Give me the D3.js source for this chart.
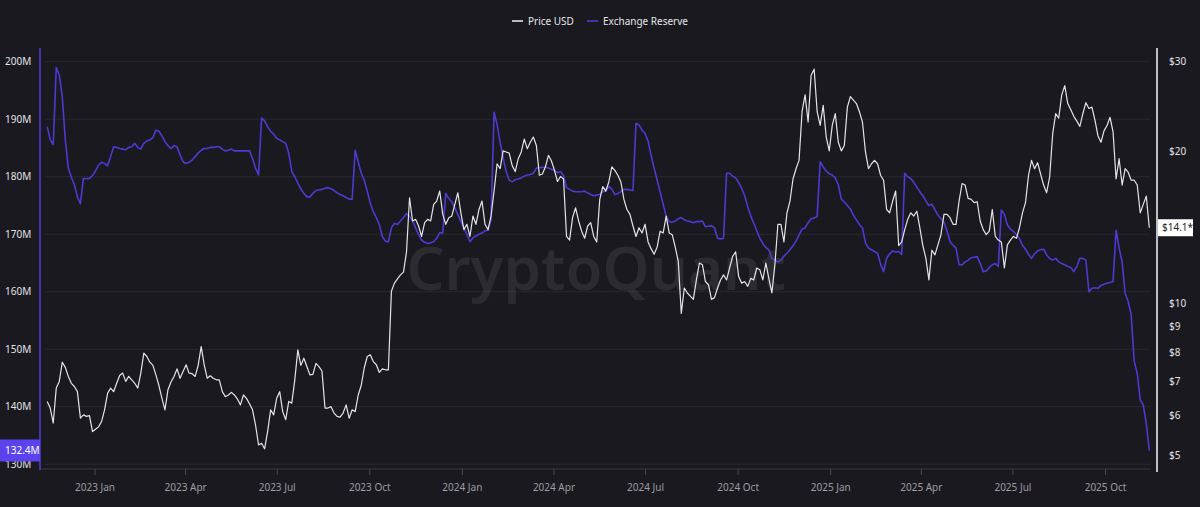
<!DOCTYPE html>
<html>
<head>
<meta charset="utf-8">
<script src="https://cdn.jsdelivr.net/npm/d3@7"></script>
<style>
  html, body { margin: 0; padding: 0; background: #1a191f; }
  svg { display: block; font-family: "Noto Sans", sans-serif; }
</style>
</head>
<body>
<div id="chart"></div>
<script>
// ─── Data (one reading every 3 days) ─────────────────────────────────────
const seriesStart = '2022-11-15';
const stepDays = 3;

// Price USD
const priceUSD = [
  6.40, 6.21, 5.80, 6.80, 7.01, 7.65, 7.47, 7.17, 6.95, 6.85,
  6.69, 5.93, 6.02, 5.98, 6.00, 5.58, 5.64, 5.70, 5.84, 6.16,
  6.64, 6.80, 6.69, 6.95, 7.20, 7.28, 7.01, 7.17, 7.06, 6.95,
  6.80, 7.28, 7.97, 7.85, 7.65, 7.54, 7.22, 6.88, 6.49, 6.16,
  6.75, 6.99, 7.17, 7.42, 7.11, 7.33, 7.56, 7.28, 7.26, 7.17,
  7.54, 8.21, 7.56, 7.11, 7.19, 7.11, 7.06, 7.06, 6.69,
  6.54, 6.59, 6.67, 6.59, 6.47, 6.30, 6.59, 6.49, 6.33, 6.16,
  5.75, 5.25, 5.29, 5.16, 5.58, 6.16, 6.02, 6.49, 6.69, 6.11,
  5.89, 6.40, 6.35, 7.06, 8.09, 7.54, 7.79, 7.50, 7.22, 7.24,
  7.61, 7.50, 7.35, 6.21, 6.21, 6.25, 6.07, 5.98, 5.96, 6.07,
  6.30, 5.93, 6.16, 6.11, 6.59, 6.88, 7.45, 7.85, 7.91, 7.67,
  7.56, 7.30, 7.42, 7.39, 7.39, 10.56, 10.96, 11.17, 11.38, 11.52,
  12.64, 16.16,
  14.54, 14.65, 14.21, 13.55, 14.43, 14.65, 14.54, 15.68, 15.92, 16.66,
  14.98, 14.32, 14.76, 14.87, 15.68, 16.53, 15.09, 13.98, 14.32, 13.55,
  14.87, 14.32, 15.32, 15.92, 14.32, 13.98, 14.87, 16.66, 18.86, 18.44,
  20.0, 19.9, 19.8, 18.7, 18.2, 19.3, 19.9, 21.1, 20.2, 20.8,
  21.3, 20.5, 17.9, 18.0, 18.6, 19.6, 19.1, 18.3, 17.4, 17.8,
  17.6, 13.55, 13.33, 14.76, 15.44, 14.54, 13.88, 13.44, 14.21, 14.43,
  13.55,
  13.22, 16.04, 17.0, 16.66, 17.36, 18.6, 18.3, 17.9, 17.36, 16.04,
  15.32, 14.98, 14.21, 13.55, 14.1, 13.77, 14.32, 13.22, 12.82, 12.5,
  12.91, 13.88, 13.77, 14.87, 13.77, 13.66, 12.91, 12.1, 9.55, 10.72,
  10.48, 10.33, 10.18, 11.12, 12.01, 11.92, 11.04, 10.88, 10.18, 10.26,
  10.72, 11.12, 11.38, 11.12, 11.74, 12.37, 12.64, 11.29, 10.96, 11.04,
  10.80, 11.2, 11.12, 11.74, 11.65, 11.12, 12.01, 11.2, 10.48, 11.92,
  14.32,
  14.32, 13.22, 15.09, 15.92, 17.6, 18.44, 19.15, 23.9, 25.8, 22.8,
  28.2, 29.0, 23.9, 22.45, 24.6, 21.3, 20.0, 22.45, 23.7, 20.8,
  20.0, 20.5, 24.4, 25.6, 25.2, 24.8, 23.9, 22.8, 19.9, 18.44,
  18.86, 19.15, 18.86, 17.9, 17.5, 15.32, 15.09, 15.92, 16.66, 13.0,
  13.22, 13.98, 14.65, 15.09, 14.87, 15.2, 14.1, 13.0, 12.28, 11.12,
  12.73, 12.46, 13.04, 13.66, 14.98, 14.98, 14.76, 14.32, 14.32, 15.92,
  17.24,
  17.12, 16.11, 16.04, 15.8, 15.87, 14.54, 13.98, 13.66, 13.88, 15.32,
  13.55, 13.33, 13.22, 11.74, 13.04, 13.33, 13.55, 13.44, 14.1, 15.09,
  15.8, 17.9, 19.15, 18.44, 18.95, 18.0, 17.12, 16.53, 17.76, 21.6,
  23.7, 23.2, 25.8, 26.9, 24.8, 24.1, 23.4, 22.9, 22.35, 23.7,
  24.9, 24.25, 24.4, 23.0, 21.4, 20.8, 21.9, 22.45, 23.3, 21.8,
  17.6, 19.3, 17.12, 18.44, 18.15, 17.5, 17.5, 17.12, 15.09, 15.68,
  16.28, 14.1
];

// Exchange Reserve, millions of tokens
const exchangeReserve = [
  188.7, 186.4, 185.6, 199.0, 197.7, 193.9, 186.4, 181.5, 179.9, 178.6,
  176.5, 175.3, 179.7, 179.7, 179.7, 180.2, 181.0, 182.0, 182.5, 182.3,
  181.9, 183.5, 185.2, 185.1, 184.9, 184.8, 184.7, 185.1, 185.2, 185.8,
  185.1, 184.8, 185.8, 186.2, 186.4, 186.8, 188.1, 187.9, 187.1, 186.1,
  185.4, 184.9, 185.4, 185.2, 183.8, 182.6, 182.3, 182.5, 182.9, 183.5,
  184.1, 184.6, 184.9, 184.9, 185.1, 185.1, 185.2, 185.2, 184.8,
  184.5, 184.6, 184.8, 184.5, 184.5, 184.5, 184.5, 184.5, 184.5, 183.2,
  181.5, 180.3, 190.2, 189.7, 188.7, 187.9, 187.4, 186.7, 186.4, 186.1,
  185.8, 184.1, 180.9, 180.0, 178.9, 177.9, 177.1, 176.5, 176.5, 177.1,
  177.6, 177.7, 177.8, 178.0, 178.1, 177.9, 177.6, 177.2, 176.9, 176.7,
  176.4, 176.1, 176.1, 184.6, 182.6, 180.6, 179.4, 177.5, 175.4, 173.9,
  172.9, 171.6, 169.6, 168.8, 168.7, 171.1, 171.9, 171.7, 172.3, 172.9,
  173.6, 173.1,
  172.3, 171.1, 169.9, 169.0, 168.6, 168.4, 168.5, 168.7, 169.3, 170.3,
  170.2, 177.1, 176.2, 175.6, 174.6, 173.4, 172.2, 171.1, 170.0, 168.7,
  169.4, 169.7, 170.0, 170.2, 170.6, 170.7, 172.5, 191.2, 189.1, 186.0,
  183.3, 180.9, 179.4, 179.1, 179.5, 179.6, 179.8, 180.1, 180.3, 180.4,
  180.6, 181.5, 181.6, 181.6, 181.7, 181.5, 181.3, 181.1, 180.7, 180.9,
  180.2, 178.1, 177.8, 177.5, 177.4, 177.4, 177.4, 177.5, 177.2, 176.9,
  176.7,
  176.8, 176.9, 177.4, 177.5, 178.3, 177.9, 176.9, 177.1, 177.4, 177.8,
  177.8, 177.7, 177.6, 189.3, 189.0, 188.1, 187.5, 186.2, 183.7, 181.5,
  179.4, 177.3, 175.2, 173.1, 172.2, 172.1, 172.3, 172.7, 172.9, 172.5,
  172.3, 172.2, 172.0, 172.2, 172.2, 172.3, 171.3, 171.4, 171.5, 171.1,
  169.3, 169.2, 169.3, 180.6, 180.6, 180.1, 179.8, 179.0, 178.0, 176.7,
  174.8, 173.2, 171.9, 170.6, 169.3, 168.4, 167.7, 167.3, 165.8, 165.5,
  165.2,
  165.5, 166.2, 166.7, 167.3, 168.0, 168.8, 169.9, 170.9, 171.1, 172.0,
  172.7, 172.8, 173.1, 182.6, 181.7, 181.0, 180.5, 180.3, 179.8, 178.6,
  176.1, 175.6, 175.0, 174.4, 173.3, 172.5, 171.7, 171.1, 168.5, 167.6,
  167.3, 167.0, 166.7, 164.8, 163.5, 165.8, 166.6, 167.1, 166.9, 167.0,
  166.5, 180.6, 180.0, 179.7, 179.0, 178.2, 177.4, 176.7, 175.8, 175.0,
  175.2, 174.3, 173.3, 172.7, 172.1, 170.6, 168.7, 168.1, 167.6, 164.7,
  164.7,
  165.2, 165.5, 165.9, 166.0, 166.1, 164.9, 163.5, 163.6, 164.2, 164.7,
  164.9, 164.4, 174.2, 173.5, 171.6, 170.9, 170.5, 169.9, 169.2, 168.1,
  167.4, 166.5, 165.8, 166.6, 167.1, 167.3, 167.4, 166.4, 165.8, 165.5,
  165.8, 165.2, 164.9, 164.7, 164.4, 164.2, 163.5, 164.4, 165.8, 165.8,
  165.5, 160.0, 160.6, 160.7, 160.6, 161.1, 161.3, 161.5, 161.6, 161.8,
  170.7, 167.6, 165.2, 159.7, 158.3, 156.0, 147.9, 145.8, 141.2, 140.3,
  137.1, 132.4
];

const reserveTicks = [130, 140, 150, 160, 170, 180, 190, 200];
const priceTicks = [5, 6, 7, 8, 9, 10, 20, 30];
const monthTicks = [
  '2023-01-01', '2023-04-01', '2023-07-01', '2023-10-01',
  '2024-01-01', '2024-04-01', '2024-07-01', '2024-10-01',
  '2025-01-01', '2025-04-01', '2025-07-01', '2025-10-01'
];
const legendItems = [
  { label: 'Price USD', color: '#e4e4e8' },
  { label: 'Exchange Reserve', color: '#4b3bd2' }
];

// ─── Layout ──────────────────────────────────────────────────────────────
const W = 1200, H = 507;
const BG = '#1a191f';
const GRID = '#2a2930';
const PRICE_C = '#e4e4e8';
const RES_C = '#4b3bd2';

const svg = d3.select('#chart').append('svg')
  .attr('width', W).attr('height', H)
  .style('background', BG);

const parse = d3.timeParse('%Y-%m-%d');
const t0 = parse(seriesStart);
const dates = priceUSD.map((_, i) => d3.timeDay.offset(t0, i * stepDays));

const x = d3.scaleTime()
  .domain([dates[0], dates[dates.length - 1]])
  .range([47.2, 1149.3]);
const yL = d3.scaleLinear().domain([130, 200]).range([464.3, 61.7]);
const yR = d3.scaleLog().domain([5, 30]).range([455.7, 61.7]);

// Gridlines (follow the reserve axis)
svg.append('g').selectAll('line')
  .data(reserveTicks)
  .join('line')
  .attr('x1', 45).attr('x2', 1150)
  .attr('y1', d => yL(d)).attr('y2', d => yL(d))
  .attr('stroke', GRID).attr('stroke-width', 1);

// Watermark
svg.append('text')
  .attr('x', 596).attr('y', 290)
  .attr('text-anchor', 'middle')
  .attr('font-size', 60).attr('font-weight', 600)
  .attr('fill', '#ffffff').attr('fill-opacity', 0.08)
  .text('CryptoQuant');

// X axis
svg.append('g')
  .attr('transform', 'translate(0,469)')
  .call(d3.axisBottom(x)
    .tickValues(monthTicks.map(parse))
    .tickFormat(d3.timeFormat('%Y %b'))
    .tickSize(6).tickSizeOuter(0).tickPadding(9))
  .call(g => {
    g.select('.domain').attr('d', 'M40,0H1150').attr('stroke', '#3a3940');
    g.selectAll('.tick line').attr('stroke', '#4a4950');
    g.selectAll('text').attr('fill', '#9c9ca2').attr('font-size', 10)
      .attr('font-family', '"Noto Sans", sans-serif');
  });

// Left axis (reserve)
svg.append('g')
  .attr('transform', 'translate(40,0)')
  .call(d3.axisLeft(yL).tickValues(reserveTicks)
    .tickFormat(d => d + 'M').tickSize(0))
  .call(g => {
    g.select('.domain').remove();
    g.selectAll('text')
      .attr('x', -35).attr('text-anchor', 'start')
      .attr('fill', '#e2e2e6').attr('font-size', 10)
      .attr('font-family', '"Noto Sans", sans-serif');
  });
svg.append('line')
  .attr('x1', 40).attr('x2', 40).attr('y1', 48).attr('y2', 470)
  .attr('stroke', RES_C).attr('stroke-width', 1.6);

// Right axis (price, log)
svg.append('g')
  .attr('transform', 'translate(1157,0)')
  .call(d3.axisRight(yR).tickValues(priceTicks)
    .tickFormat(d => '$' + d).tickSize(0).tickPadding(12))
  .call(g => {
    g.select('.domain').remove();
    g.selectAll('text').attr('fill', '#e2e2e6').attr('font-size', 10)
      .attr('font-family', '"Noto Sans", sans-serif');
  });
svg.append('line')
  .attr('x1', 1157).attr('x2', 1157).attr('y1', 48).attr('y2', 472)
  .attr('stroke', '#e8e8ec').attr('stroke-width', 1.6);

// Series
const reserveLine = d3.line()
  .x((d, i) => x(dates[i]))
  .y(d => yL(d));
const priceLine = d3.line()
  .x((d, i) => x(dates[i]))
  .y(d => yR(d));

svg.append('path')
  .datum(exchangeReserve)
  .attr('fill', 'none')
  .attr('stroke', RES_C)
  .attr('stroke-width', 1.6)
  .attr('stroke-linejoin', 'round')
  .attr('d', reserveLine);

svg.append('path')
  .datum(priceUSD)
  .attr('fill', 'none')
  .attr('stroke', PRICE_C)
  .attr('stroke-width', 1.2)
  .attr('stroke-linejoin', 'round')
  .attr('d', priceLine);

// Last-value tags
const lastPrice = priceUSD[priceUSD.length - 1];
const lastRes = exchangeReserve[exchangeReserve.length - 1];

const pTag = svg.append('g').attr('transform', `translate(1158,${yR(lastPrice)})`);
pTag.append('rect').attr('x', 0).attr('y', -8.5).attr('width', 35).attr('height', 17)
  .attr('fill', '#ffffff');
pTag.append('text').attr('x', 4).attr('y', 0).attr('dy', '0.35em')
  .attr('fill', '#1e1e24').attr('font-size', 10)
  .text(`$${lastPrice}*`);

const rTag = svg.append('g').attr('transform', `translate(0,${yL(lastRes)})`);
rTag.append('rect').attr('x', 0).attr('y', -11).attr('width', 40).attr('height', 22)
  .attr('fill', '#5a43ee');
rTag.append('text').attr('x', 5).attr('y', 0).attr('dy', '0.35em')
  .attr('fill', '#ffffff').attr('font-size', 10)
  .text(`${lastRes}M`);

// Legend
const legend = svg.append('g').attr('transform', 'translate(0,21)');
const legendX = [512, 587];
legendItems.forEach((item, i) => {
  const gx = legendX[i];
  legend.append('line')
    .attr('x1', gx).attr('x2', gx + 11).attr('y1', 0).attr('y2', 0)
    .attr('stroke', item.color).attr('stroke-width', 1.6);
  legend.append('text')
    .attr('x', gx + 16).attr('y', 0).attr('dy', '0.35em')
    .attr('fill', '#e6e6ea').attr('font-size', 10)
    .text(item.label);
});
</script>
</body>
</html>
